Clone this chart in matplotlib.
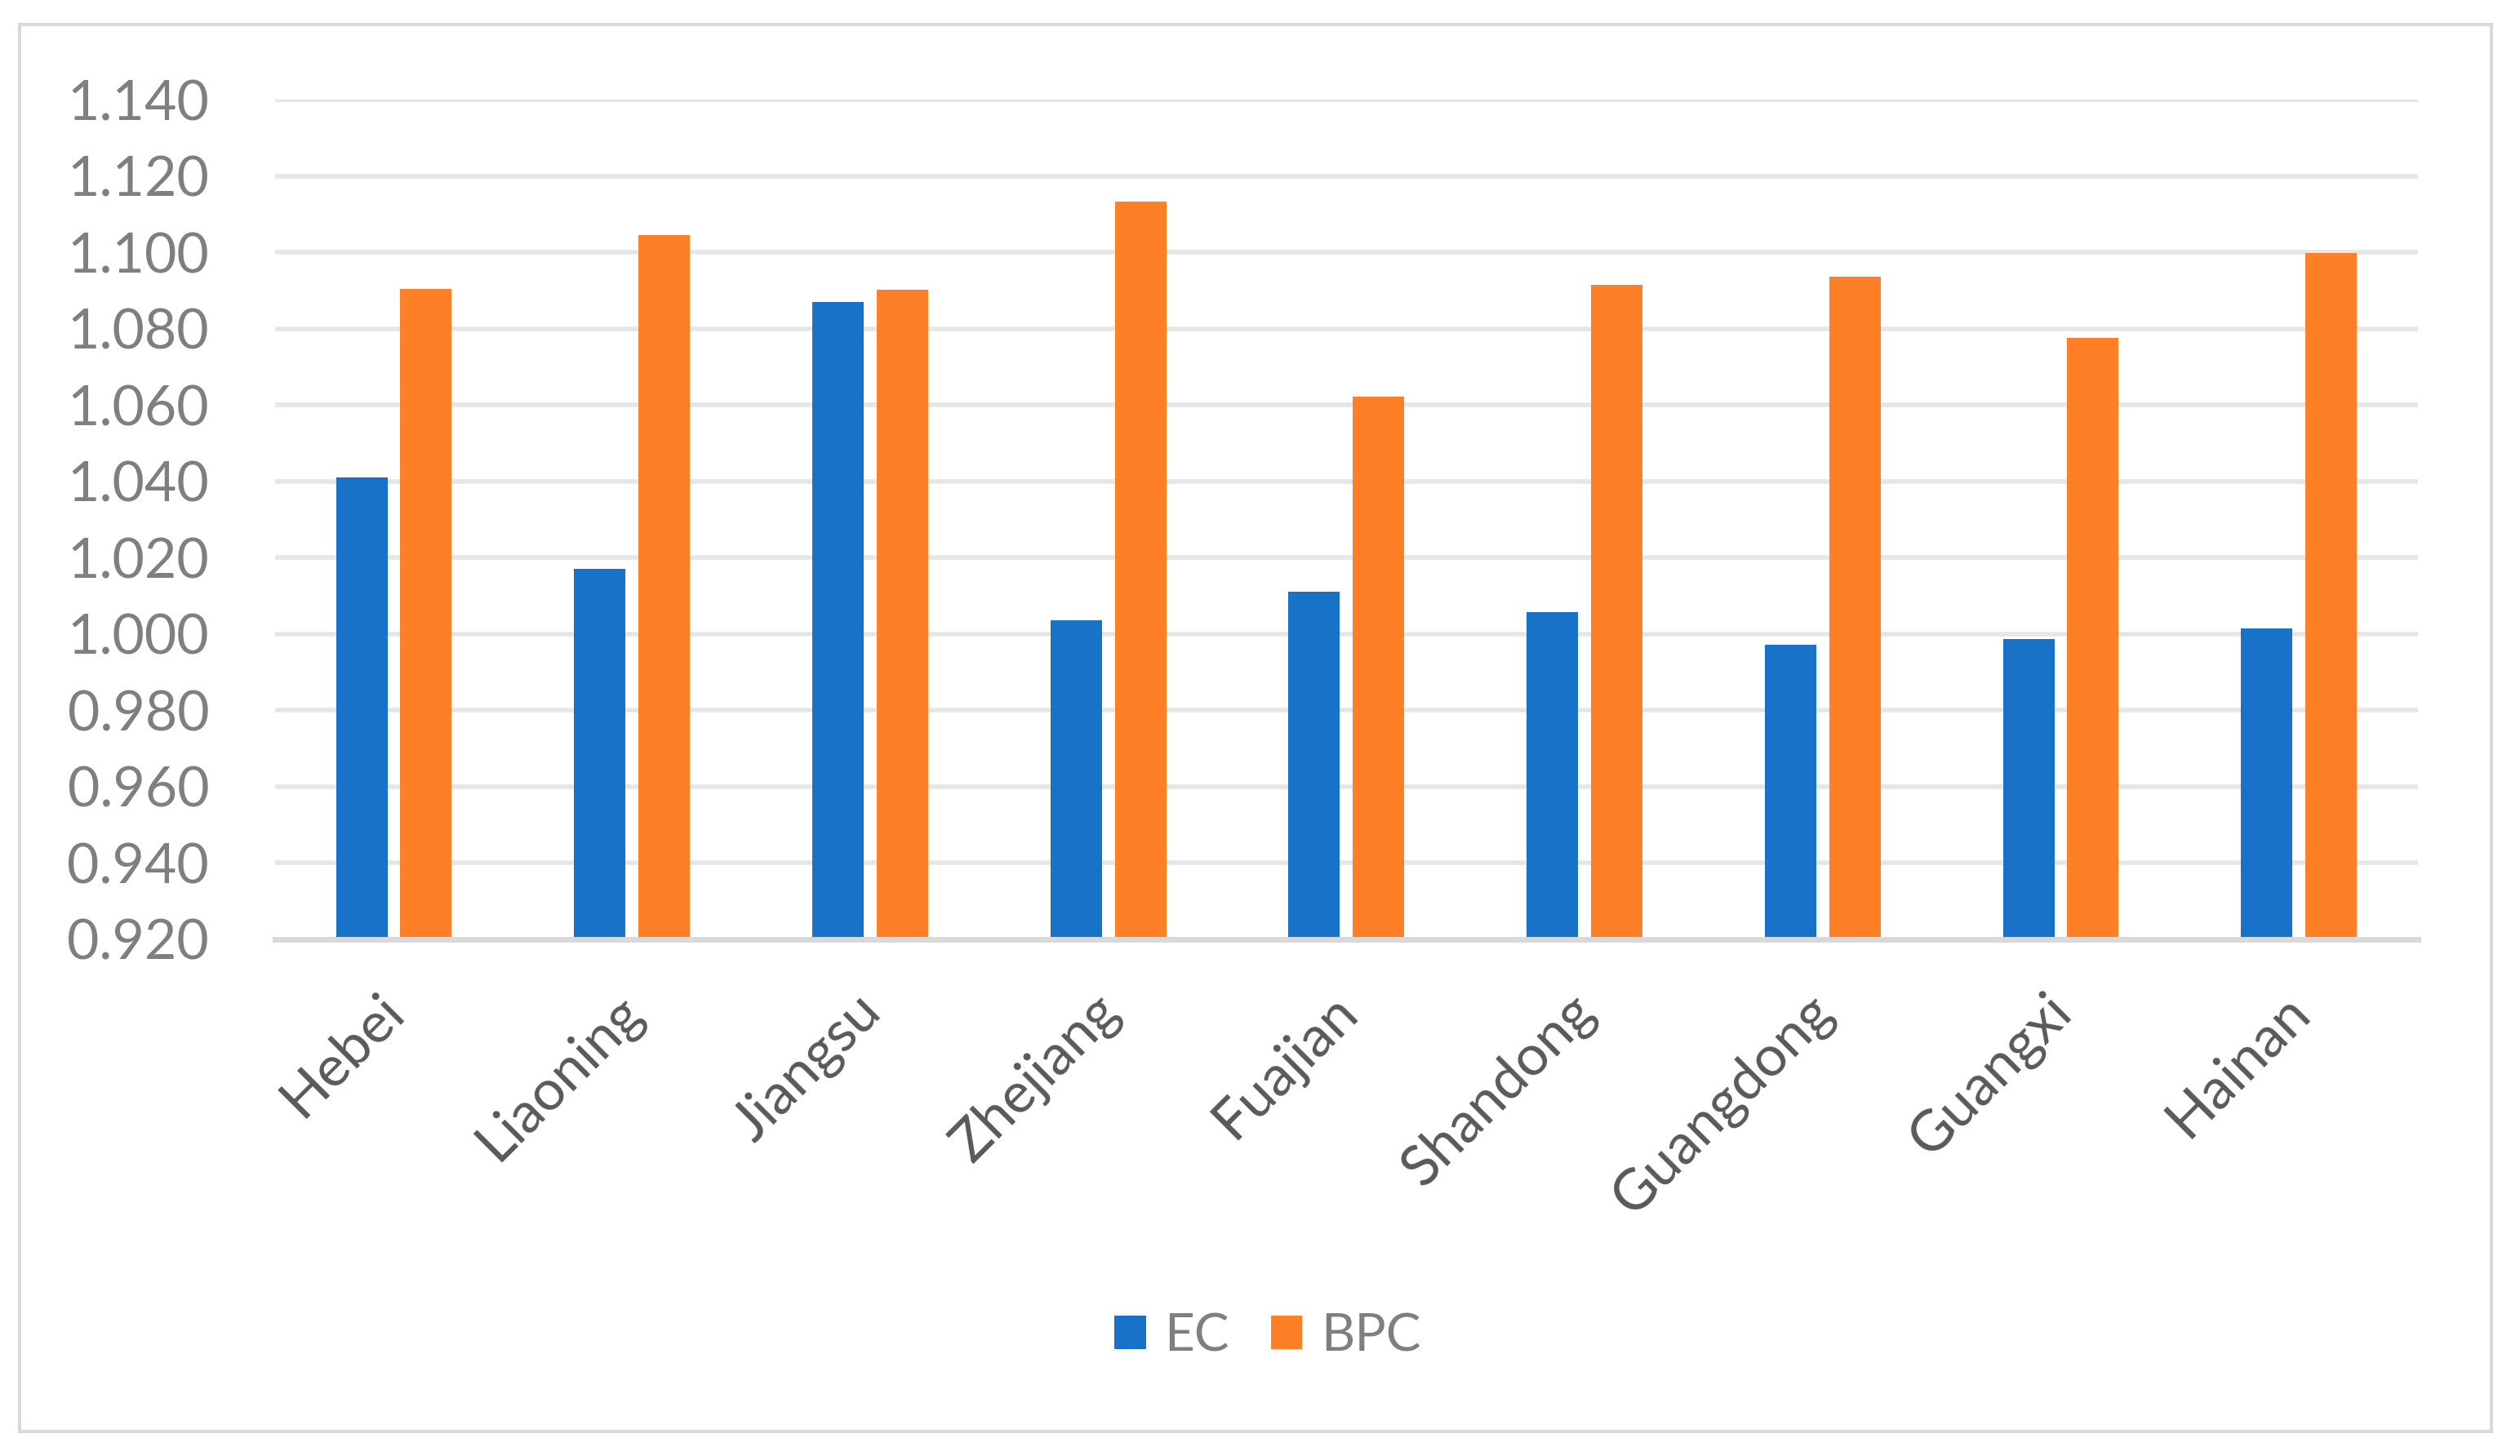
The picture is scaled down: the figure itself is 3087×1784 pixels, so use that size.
import matplotlib
matplotlib.use("Agg")
import matplotlib.pyplot as plt
import matplotlib.transforms as mtransforms
import numpy as np
from matplotlib.patches import Rectangle

categories = ["Hebei", "Liaoning", "Jiangsu", "Zhejiang", "Fuajian",
              "Shandong", "Guangdong", "Guangxi", "Hainan"]
ec = [1.041, 1.017, 1.087, 1.0035, 1.011, 1.0057, 0.9972, 0.9987, 1.0015]
bpc = [1.0904, 1.1046, 1.0902, 1.1133, 1.0622, 1.0915, 1.0936, 1.0776, 1.0998]
yticks = [0.920, 0.940, 0.960, 0.980, 1.000, 1.020, 1.040, 1.060, 1.080,
          1.100, 1.120, 1.140]

plt.rcParams['font.family'] = ['Lato', 'DejaVu Sans']

W, H = 3087, 1784
fig = plt.figure(figsize=(W / 100, H / 100), dpi=100)
fig.patch.set_facecolor('white')

# outer border
fig.patches.append(Rectangle((24 / W, 30 / H), (3052 - 24) / W, (1754 - 30) / H,
                             transform=fig.transFigure, fill=False,
                             edgecolor='#D9D9D9', linewidth=3))

ax = fig.add_axes([336.7 / W, (H - 1151) / H, (2962 - 336.7) / W, (1151 - 122) / H])
x = np.arange(len(categories))
bw = 0.216
off = 0.135
blue = '#1873C8'
orange = '#FF7F27'
ax.bar(x - off, [v - 0.92 for v in ec], bw, bottom=0.92, color=blue, label='EC', zorder=3)
ax.bar(x + off, [v - 0.92 for v in bpc], bw, bottom=0.92, color=orange, label='BPC', zorder=3)

ax.set_xlim(-0.5, len(categories) - 0.5)
ax.set_ylim(0.92, 1.14)
ax.set_yticks(yticks)
ax.set_yticklabels([f"{t:.3f}" for t in yticks])
ax.yaxis.grid(True, color='#E6E6E6', linewidth=4, zorder=0)
ax.set_axisbelow(True)
for s in ['top', 'right', 'left']:
    ax.spines[s].set_visible(False)
ax.spines['bottom'].set_color('#D9D9D9')
ax.spines['bottom'].set_linewidth(5)
ax.spines['bottom'].set_zorder(4)
ax.tick_params(axis='both', length=0)
ax.tick_params(axis='y', labelsize=49, labelcolor='#7F7F7F')
ax.yaxis.set_tick_params(pad=58)

ax.set_xticks(x)
ax.set_xticklabels(categories, rotation=45, ha='right', rotation_mode='anchor',
                   fontsize=50, color='#595959')
ax.tick_params(axis='x', pad=40)
shift = mtransforms.ScaledTranslation(-20 / 100, 0, fig.dpi_scale_trans)
for lab in ax.get_xticklabels():
    lab.set_transform(lab.get_transform() + shift)

leg = fig.legend(loc='center', bbox_to_anchor=(1553 / W, (H - 1637) / H), ncol=2,
                 frameon=False, fontsize=46, handlelength=0.6, handleheight=0.6,
                 handletextpad=0.36, columnspacing=0.8)
for t in leg.get_texts():
    t.set_color('#7F7F7F')

fig.savefig('out.png', dpi=100, facecolor='white')
